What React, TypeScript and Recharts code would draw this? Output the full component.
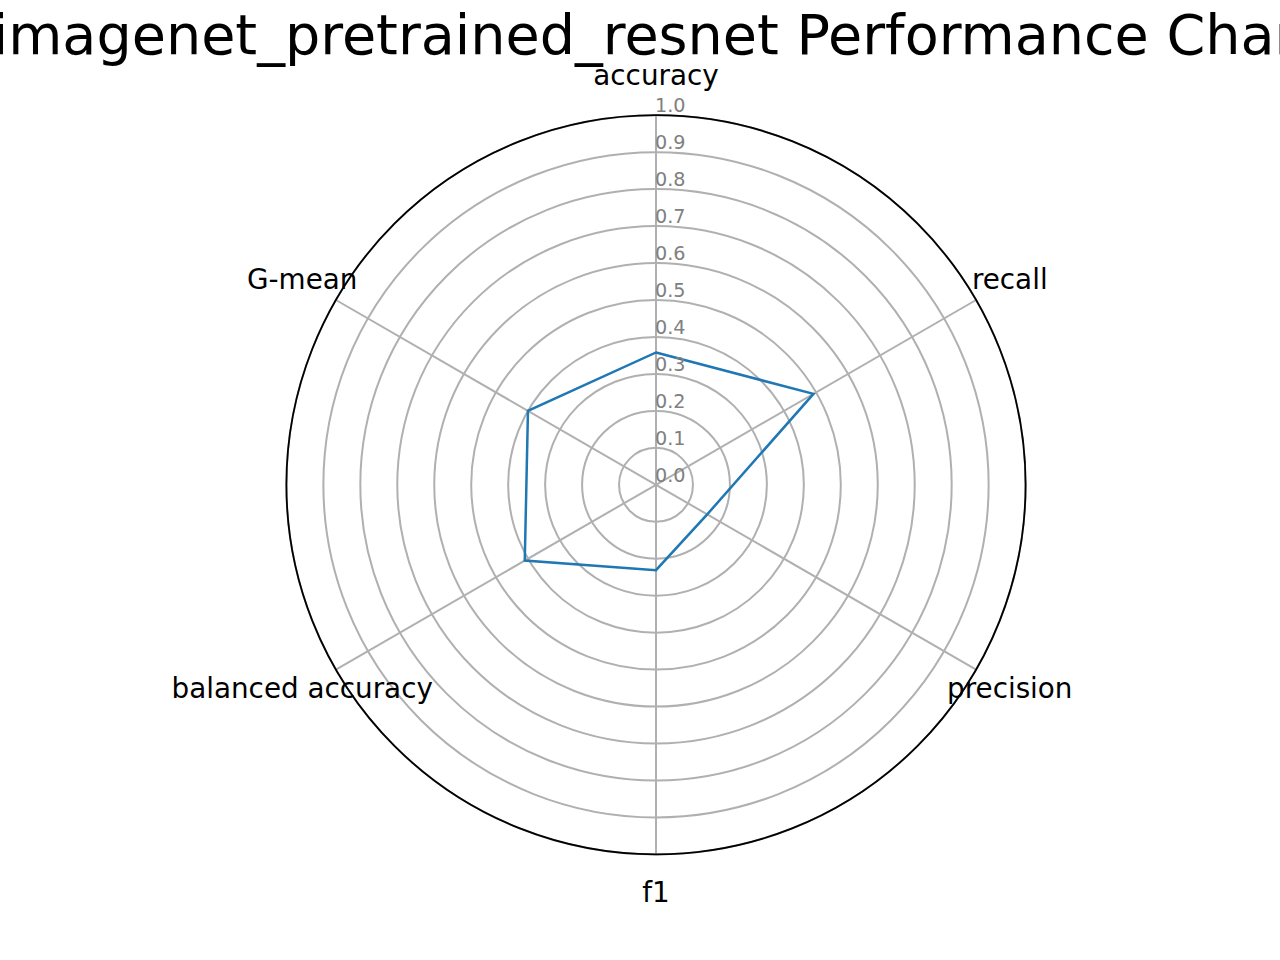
import React from 'react';
import { RadarChart, Radar, PolarGrid, PolarAngleAxis, PolarRadiusAxis } from 'recharts';

const metrics: string[] = ['accuracy', 'recall', 'precision', 'f1', 'balanced accuracy', 'G-mean'];
const scores: number[] = [0.358, 0.492, 0.16, 0.231, 0.41, 0.4];
const radiusTicks: number[] = [0, 0.1, 0.2, 0.3, 0.4, 0.5, 0.6, 0.7, 0.8, 0.9, 1.0];
const titleText = 'imagenet_pretrained_resnet Performance Chart';

const data = metrics.map((m, i) => ({ metric: m, value: scores[i] }));

const W = 1280;
const H = 960;
const CX = 656;
const CY = 484.8;
const OUTER_R = 369.6;
const LABEL_R = 408.5;
const FONT = '"DejaVu Sans", sans-serif';

const AngleTick = (props: any) => {
  const { x, y, payload } = props;
  return (
    <text x={x} y={y + 8.7} textAnchor="middle" fontFamily={FONT} fontSize={27.8} fill="#000">
      {payload.value}
    </text>
  );
};

const RadiusTick = (props: any) => {
  const { x, y, payload } = props;
  return (
    <text x={x - 1} y={y - 3} textAnchor="start" fontFamily={FONT} fontSize={19.2} fill="#808080">
      {Number(payload.value).toFixed(1)}
    </text>
  );
};

export default function App() {
  return (
    <div style={{ position: 'absolute', left: 0, top: 0, width: W, height: H, background: '#fff' }}>
      <RadarChart
        width={W}
        height={H}
        data={data}
        cx={CX}
        cy={CY}
        outerRadius={OUTER_R}
        margin={{ top: 0, right: 0, bottom: 0, left: 0 }}
        startAngle={90}
        endAngle={-270}
      >
        <PolarGrid gridType="circle" stroke="#b0b0b0" strokeWidth={2} />
        <PolarGrid gridType="circle" radialLines={false} polarRadius={[OUTER_R]} stroke="#000" strokeWidth={1.8} />
        <PolarAngleAxis
          dataKey="metric"
          tick={<AngleTick />}
          tickLine={false}
          axisLine={false}
          tickSize={LABEL_R - OUTER_R}
        />
        <PolarRadiusAxis
          angle={90}
          domain={[0, 1]}
          ticks={radiusTicks}
          tickCount={11}
          axisLine={false}
          tick={<RadiusTick />}
        />
        <Radar
          dataKey="value"
          stroke="#1f77b4"
          strokeWidth={2.5}
          fill="none"
          fillOpacity={0}
          dot={false}
          isAnimationActive={false}
        />
      </RadarChart>
      <svg width={W} height={H} style={{ position: 'absolute', left: 0, top: 0, pointerEvents: 'none' }}>
        <text x={CX} y={53.5} textAnchor="middle" fontFamily={FONT} fontSize={55.6} fill="#000">
          {titleText}
        </text>
      </svg>
    </div>
  );
}
